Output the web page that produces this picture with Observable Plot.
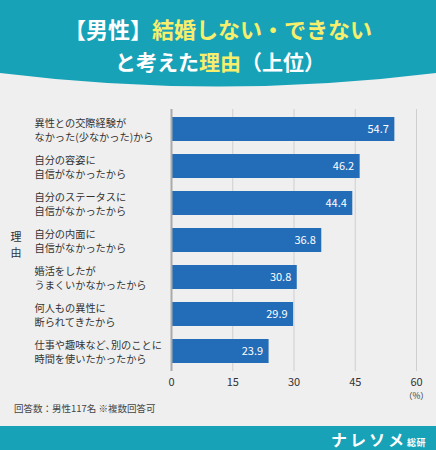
<!DOCTYPE html>
<html><head><meta charset="utf-8">
<script src="https://cdn.jsdelivr.net/npm/d3@7"></script>
<script src="https://cdn.jsdelivr.net/npm/@observablehq/plot@0.6"></script>
<style>
html,body{margin:0;padding:0;}
body{width:436px;height:450px;background:#efefef;position:relative;overflow:hidden;font-family:"Noto Sans CJK JP","Noto Sans",sans-serif;}
#head{position:absolute;left:0;top:0;}
#chart{position:absolute;left:0;top:0;}
#ylab{position:absolute;left:9px;top:228px;font-size:11px;line-height:16px;color:#333;width:14px;text-align:center;}
#note{position:absolute;left:14px;top:401px;font-size:9.5px;color:#444;}
#foot{position:absolute;left:0;top:426px;width:436px;height:24px;background:#17a2b7;}
#brand{position:absolute;right:10px;top:1px;color:#fff;font-weight:bold;font-size:16px;letter-spacing:3px;}
#brand small{font-size:9px;letter-spacing:0.5px;}
#pct{position:absolute;left:404px;top:390px;font-size:8.5px;line-height:10px;color:#333;}
</style></head>
<body>
<svg id="head" width="436" height="100">
  <path d="M0,0 H436 V73 Q218,100 0,73 Z" fill="#17a2b7"/>
  <text x="218" y="38" text-anchor="middle" font-size="22" font-weight="bold" font-family="Noto Sans CJK JP"><tspan fill="#fff">【男性】</tspan><tspan fill="#f6ee6c">結婚しない・できない</tspan></text>
  <text x="220" y="70" text-anchor="middle" font-size="21" font-weight="bold" font-family="Noto Sans CJK JP"><tspan fill="#fff">と考えた</tspan><tspan fill="#f6ee6c">理由</tspan><tspan fill="#fff">（上位）</tspan></text>
</svg>
<div id="chart"></div>
<div id="ylab">理<br>由</div>
<div id="pct">（%）</div>
<div id="note">回答数：男性117名 ※複数回答可</div>
<div id="foot"><div id="brand">ナレソメ<small>総研</small></div></div>
<script>
const reasons = [
  "異性との交際経験が\nなかった(少なかった)から",
  "自分の容姿に\n自信がなかったから",
  "自分のステータスに\n自信がなかったから",
  "自分の内面に\n自信がなかったから",
  "婚活をしたが\nうまくいかなかったから",
  "何人もの異性に\n断られてきたから",
  "仕事や趣味など､別のことに\n時間を使いたかったから"
];
const values = [54.7, 46.2, 44.4, 36.8, 30.8, 29.9, 23.9];
const xTicks = [0, 15, 30, 45, 60];
const data = reasons.map((r, i) => ({reason: r, value: values[i]}));

const chart = Plot.plot({
  width: 436,
  height: 400,
  marginLeft: 171,
  marginRight: 20,
  marginTop: 109,
  marginBottom: 29,
  style: {background: "transparent", fontFamily: "Noto Sans CJK JP, Noto Sans, sans-serif"},
  x: {domain: [0, 60], ticks: xTicks},
  y: {domain: reasons, paddingInner: 0.36, paddingOuter: 0.18, axis: null},
  marks: [
    Plot.gridX(xTicks.filter(d => d > 0), {stroke: "#cfcfcf", strokeOpacity: 1, strokeWidth: 1}),
    Plot.barX(data, {x: "value", y: "reason", fill: "#226cb8"}),
    Plot.ruleX([0], {stroke: "#aaaaaa", strokeWidth: 2}),
    Plot.axisX({ticks: xTicks, tickSize: 0, tickPadding: 7, fontSize: 11, color: "#333", label: null}),
    Plot.text(data, {y: "reason", text: "reason", frameAnchor: "left", dx: -137, textAnchor: "start", fontSize: 10.2, lineHeight: 1.36, fill: "#333"}),
    Plot.text(data, {x: "value", y: "reason", text: d => d.value.toFixed(1), textAnchor: "end", dx: -6, fill: "#fff", fontSize: 11})
  ]
});
document.getElementById("chart").appendChild(chart);
</script>
</body></html>
